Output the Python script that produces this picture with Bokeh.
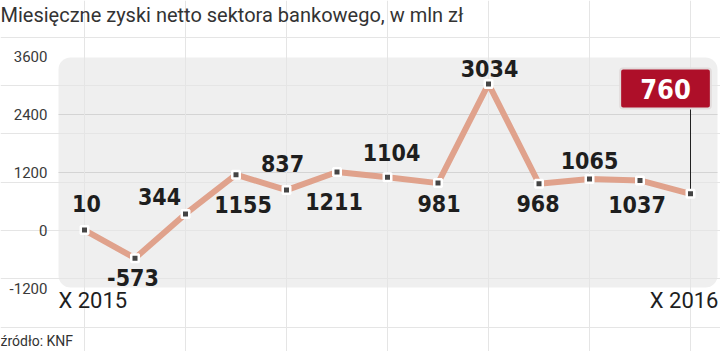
from bokeh.plotting import figure
from bokeh.models import Range1d, BoxAnnotation, Label, ColumnDataSource
from bokeh.core.properties import value
from bokeh.embed import file_html
from bokeh.resources import INLINE

# ---- data ----
months = ["X 2015", "XI 2015", "XII 2015", "I 2016", "II 2016", "III 2016", "IV 2016",
          "V 2016", "VI 2016", "VII 2016", "VIII 2016", "IX 2016", "X 2016"]
profits = [10, -573, 344, 1155, 837, 1211, 1104, 981, 3034, 968, 1065, 1037, 760]
y_ticks = [-1200, 0, 1200, 2400, 3600]
grid_ticks = [0, 1200, 2400]
title_text = "Miesięczne zyski netto sektora bankowego, w mln zł"
source_text = "źródło: KNF"

# label offsets in pixels (layout only)
label_dx = [2, -2, -26, 7, -4, -3, 4, 1, 1, -1, 0, -3]
label_dy = [-27, 19, -17, 30, -27, 30, -25, 20, -15, 20, -19, 24]

LABEL_FONT = "DejaVu Sans Condensed"
BASE_FONT = "Roboto"

xs = list(range(len(profits)))

X0, X1 = -1.6634, 12.594
p = figure(width=720, height=351, output_backend="svg", toolbar_location=None,
           x_range=Range1d(X0, X1), y_range=Range1d(-2503, 4759),
           x_axis_location=None, y_axis_location=None,
           min_border_left=0, min_border_right=0, min_border_top=0, min_border_bottom=0,
           background_fill_color="white", border_fill_color="white",
           outline_line_color=None)

PANEL_L, PANEL_R = -0.515, 12.535

# rounded background panel
bg = BoxAnnotation(left=PANEL_L, right=PANEL_R, top=3580, bottom=-1180,
                   fill_color="#efefef", fill_alpha=1.0, line_color=None,
                   border_radius=12, level="image")
p.add_layout(bg)

# grid lines
p.segment(x0=[PANEL_L] * len(grid_ticks), x1=[PANEL_R] * len(grid_ticks),
          y0=grid_ticks, y1=grid_ticks, line_color="#d4d4d4", line_width=1,
          level="underlay")

# y tick labels
p.text(x=[-0.733] * len(y_ticks), y=y_ticks, text=[str(t) for t in y_ticks],
       text_align="right", text_baseline="middle", text_font=value(BASE_FONT),
       text_font_size="15px", text_color="#3a3a3a")

# line + markers
src = ColumnDataSource(dict(x=xs, y=profits))
p.line("x", "y", source=src, line_color="#e0a28c", line_width=6)

# connector to callout
callout_bottom = 2566
p.segment(x0=[xs[-1]], y0=[profits[-1]], x1=[xs[-1]], y1=[callout_bottom],
          line_color="#222222", line_width=1)

p.scatter("x", "y", source=src, marker="square", size=7.5, fill_color="#454545",
          line_color="white", line_width=2.5)

# value labels
lab_src = ColumnDataSource(dict(x=xs[:-1], y=profits[:-1],
                                t=[str(v) for v in profits[:-1]],
                                dx=label_dx, dy=label_dy))
p.text("x", "y", text="t", source=lab_src, x_offset="dx", y_offset="dy",
       text_align="center", text_baseline="middle", text_font=value(LABEL_FONT),
       text_font_style="bold", text_font_size="23px", text_color="#1e1e1e")

# callout for latest value
callout = Label(x=xs[-1] - 0.495, y=2938, text=str(profits[-1]),
                text_align="center", text_baseline="middle",
                text_font=LABEL_FONT, text_font_style="bold", text_font_size="27px",
                text_color="white", background_fill_color="#ae0f29",
                border_line_color="#e2dcdc", border_line_width=2,
                padding=dict(left=20, right=20, top=10, bottom=10), border_radius=3)
p.add_layout(callout)

# x end labels
p.add_layout(Label(x=PANEL_L, y=-1448, text=months[0], text_align="left",
                   text_baseline="middle", text_font=BASE_FONT,
                   text_font_size="22px", text_color="#1e1e1e"))
p.add_layout(Label(x=12.554, y=-1448, text=months[-1], text_align="right",
                   text_baseline="middle", text_font=BASE_FONT,
                   text_font_size="22px", text_color="#1e1e1e"))

# title and source
p.add_layout(Label(x=X0, y=4469, text=title_text, text_align="left",
                   text_baseline="middle", text_font=BASE_FONT,
                   text_font_size="20px", text_color="#333333"))
p.add_layout(Label(x=X0, y=-2276, text=source_text, text_align="left",
                   text_baseline="middle", text_font=BASE_FONT,
                   text_font_size="14px", text_color="#333333"))

open("out.html", "w").write(file_html(p, INLINE))
